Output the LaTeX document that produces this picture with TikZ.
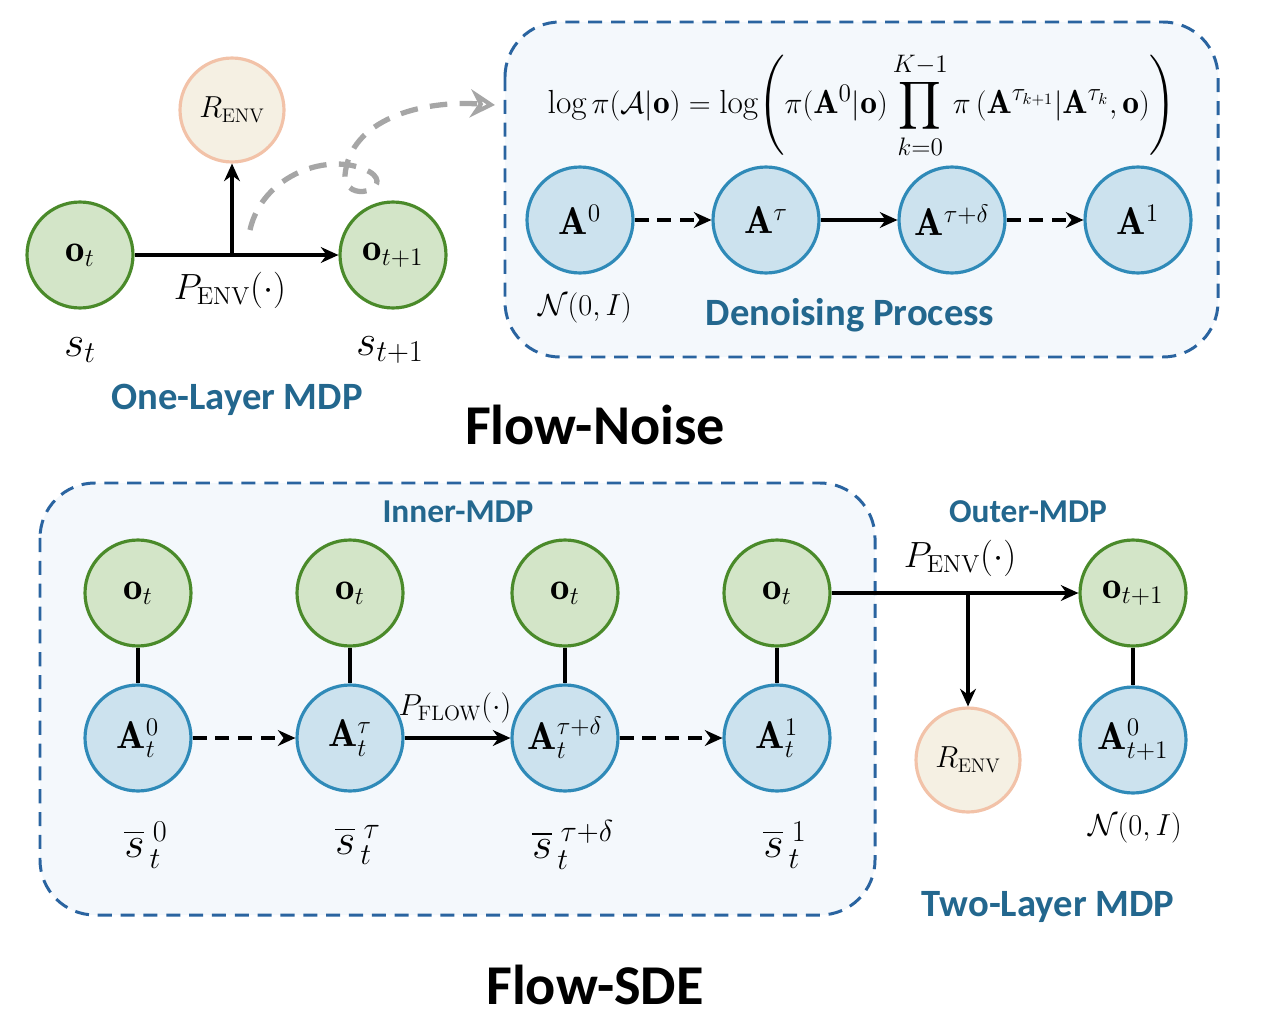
\documentclass[tikz,border=0pt]{standalone}
\usepackage{amsmath,amssymb}
\usepackage{fontspec}
\newfontfamily\carlitofont{Carlito}
\usetikzlibrary{arrows.meta}
\definecolor{gfill}{HTML}{D3E5C8}\definecolor{gdraw}{HTML}{4A8A2A}
\definecolor{bfill}{HTML}{CCE2EE}\definecolor{bdraw}{HTML}{2F8AB8}
\definecolor{pfill}{HTML}{F5F0E3}\definecolor{pdraw}{HTML}{F2C2A8}
\definecolor{boxfill}{HTML}{F4F8FC}\definecolor{boxdraw}{HTML}{2A64A0}
\definecolor{ttl}{HTML}{23678E}
\tikzset{
 onode/.style={circle,draw=gdraw,fill=gfill,line width=1.8pt,minimum size=2.12cm,inner sep=0pt,font=\fontsize{22}{26}\selectfont},
 anode/.style={circle,draw=bdraw,fill=bfill,line width=1.8pt,minimum size=2.12cm,inner sep=0pt,font=\fontsize{22}{26}\selectfont},
 rnode/.style={circle,draw=pdraw,fill=pfill,line width=1.8pt,minimum size=2.08cm,inner sep=0pt,font=\fontsize{16}{20}\selectfont},
 arr/.style={-{Stealth[length=10pt,width=9pt]},line width=2pt},
 darr/.style={arr,dash pattern=on 8pt off 5pt},
 dbox/.style={draw=boxdraw,fill=boxfill,line width=1.7pt,dash pattern=on 8pt off 5pt,rounded corners=1.1cm},
 lbl/.style={font=\fontsize{20}{24}\selectfont},
 ttlb/.style={text=ttl,font=\carlitofont\bfseries\fontsize{22}{26}\selectfont},
 big/.style={font=\carlitofont\bfseries\fontsize{32}{38}\selectfont}
}
\begin{document}
\begin{tikzpicture}[x=0.02cm,y=-0.02cm]
\useasboundingbox (0,0) rectangle (1278,1017);
\draw[dbox] (505,22) rectangle (1218,357);
\draw[dbox] (40,483) rectangle (875,915);
\node[onode] (ot) at (80,255) {$\mathbf{o}_t$};
\node[onode] (ot1) at (393,255) {$\mathbf{o}_{t+1}$};
\node[rnode] (r1) at (232,110) {$R_{\text{ENV}}$};
\draw[arr] (ot) -- (ot1);
\coordinate (m1) at (232,255);
\draw[arr] (m1) -- (r1);
\node[lbl] (pe1) at (230,290) {$P_{\text{ENV}}(\cdot)$};
\node[lbl,font=\fontsize{26}{30}\selectfont] (st) at (80,350) {$s_t$};
\node[lbl,font=\fontsize{26}{30}\selectfont] (st1) at (390,350) {$s_{t+1}$};
\node[ttlb] (one) at (237,400) {One-Layer MDP};
\coordinate (g0) at (250,230); \coordinate (g1) at (495,105);
\draw[gray!70,line width=3pt,dash pattern=on 10pt off 7pt,-{Stealth[length=14pt,width=16pt,open]}]
 (g0) .. controls (262,175) and (330,150) .. (370,172) .. controls (395,188) and (345,205) .. (345,175)
 .. controls (350,120) and (420,100) .. (g1);
\node[lbl,font=\fontsize{19}{23}\selectfont] (form) at (862,105) {$\log\pi(\mathcal{A}|\mathbf{o})=\log\!\left(\pi(\mathbf{A}^0|\mathbf{o})\displaystyle\prod_{k=0}^{K-1}\pi\left(\mathbf{A}^{\tau_{k+1}}|\mathbf{A}^{\tau_k},\mathbf{o}\right)\right)$};
\node[anode] (a0) at (580,220) {$\mathbf{A}^0$};
\node[anode] (at) at (766,220) {$\mathbf{A}^\tau$};
\node[anode] (atd) at (952,220) {$\mathbf{A}^{\tau+\delta}$};
\node[anode] (a1) at (1138,220) {$\mathbf{A}^1$};
\draw[darr] (a0) -- (at); \draw[arr] (at) -- (atd); \draw[darr] (atd) -- (a1);
\node[lbl,font=\fontsize{18}{22}\selectfont] (n1) at (585,308) {$\mathcal{N}(0,I)$};
\node[ttlb] (den) at (850,315) {Denoising Process};
\node[big] (fn) at (595,425) {Flow-Noise};
\node[ttlb,font=\carlitofont\bfseries\fontsize{19}{22}\selectfont] (inner) at (458,512) {Inner-MDP};
\node[ttlb,font=\carlitofont\bfseries\fontsize{19}{22}\selectfont] (outer) at (1028,512) {Outer-MDP};
\foreach \i/\x/\s/\b in {0/138/0/0,1/350/\tau/\tau,2/565/\tau+\delta/\tau+\delta,3/777/1/1}{
 \node[onode] (bo\i) at (\x,593) {$\mathbf{o}_t$};
 \node[anode] (ba\i) at (\x,738) {$\mathbf{A}_t^{\s}$};
 \draw[line width=2pt] (bo\i) -- (ba\i);
 \node[lbl,font=\fontsize{24}{28}\selectfont] (bs\i) at (\x+8,845) {$\overline{s}_{\,t}^{\;\b}$};
}
\draw[darr] (ba0) -- (ba1); \draw[arr] (ba1) -- (ba2); \draw[darr] (ba2) -- (ba3);
\node[lbl,font=\fontsize{17}{20}\selectfont] (pf) at (455,708) {$P_{\text{FLOW}}(\cdot)$};
\node[onode] (bo4) at (1133,593) {$\mathbf{o}_{t+1}$};
\node[anode] (ba4) at (1133,740) {$\mathbf{A}_{t+1}^0$};
\draw[line width=2pt] (bo4) -- (ba4);
\node[rnode] (r2) at (968,760) {$R_{\text{ENV}}$};
\draw[arr] (bo3) -- (bo4);
\coordinate (m2) at (968,593);
\draw[arr] (m2) -- (r2);
\node[lbl] (pe2) at (960,558) {$P_{\text{ENV}}(\cdot)$};
\node[lbl,font=\fontsize{18}{22}\selectfont] (n2) at (1135,828) {$\mathcal{N}(0,I)$};
\node[ttlb] (two) at (1048,907) {Two-Layer MDP};
\node[big] (fs) at (595,985) {Flow-SDE};
\end{tikzpicture}
\end{document}
